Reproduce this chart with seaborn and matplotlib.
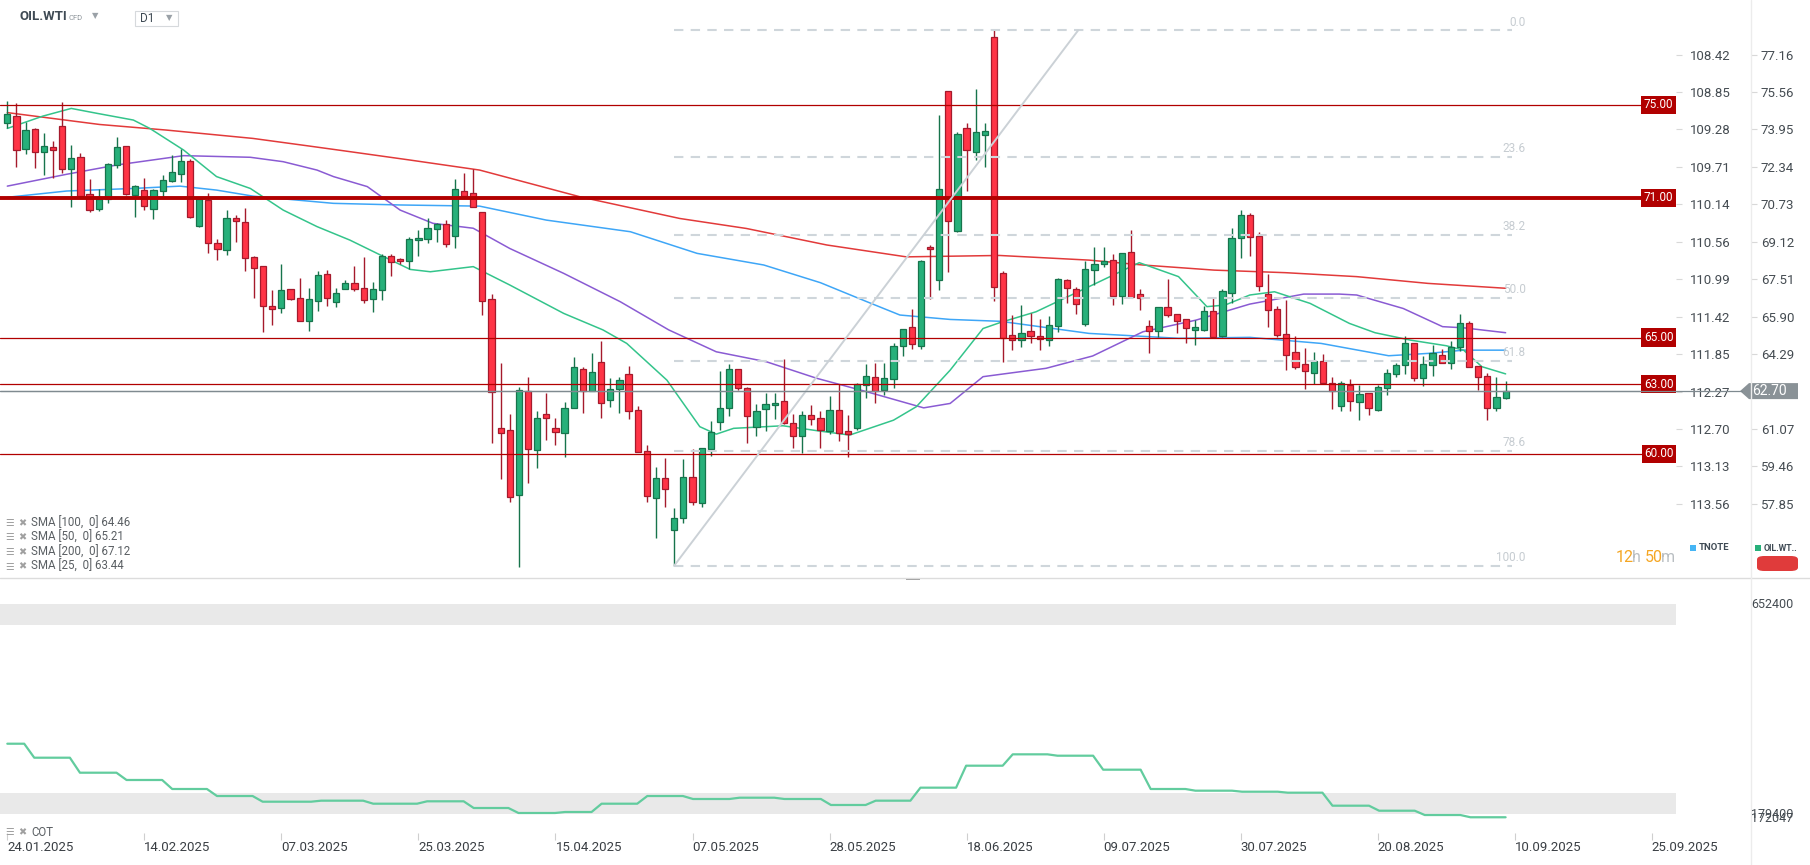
import numpy as np
import seaborn as sns
import matplotlib.pyplot as plt
import matplotlib.transforms as mtransforms
from matplotlib.patches import Rectangle, Polygon, FancyBboxPatch
from matplotlib.lines import Line2D

# ---- OIL.WTI daily candles ----
opens = [74.24, 74.51, 73.09, 73.95, 72.96, 73.18, 74.08, 72.26, 72.75, 71.16,
         70.51, 70.94, 72.40, 73.22, 71.12, 71.33, 70.51, 71.29, 71.72, 72.02,
         72.58, 69.78, 70.90, 69.05, 68.75, 70.13, 69.96, 68.45, 68.07, 66.35,
         66.26, 67.08, 66.69, 65.70, 66.56, 67.72, 66.52, 67.08, 67.34, 67.12,
         66.65, 67.03, 68.49, 68.37, 68.28, 69.18, 69.23, 69.65, 69.87, 69.35,
         71.29, 71.20, 70.38, 66.65, 61.10, 61.01, 58.22, 62.69, 60.15, 61.70,
         61.10, 60.88, 61.96, 63.63, 62.69, 63.93, 62.30, 62.77, 63.42, 61.87,
         60.11, 58.09, 58.95, 56.72, 57.23, 58.99, 57.88, 60.20, 61.36, 61.96,
         63.63, 62.82, 61.14, 61.91, 62.09, 62.26, 61.31, 60.75, 61.66, 61.53,
         60.97, 61.87, 60.97, 61.10, 62.95, 63.29, 62.73, 63.20, 64.66, 65.44,
         64.66, 68.88, 67.46, 75.58, 69.57, 73.99, 72.96, 73.69, 77.94, 67.76,
         65.10, 64.88, 65.27, 65.05, 64.88, 65.48, 67.46, 67.07, 65.60, 67.89,
         68.15, 68.32, 66.80, 68.68, 66.86, 65.50, 65.30, 66.30, 66.00, 65.78,
         65.34, 65.34, 66.13, 65.08, 66.93, 69.26, 70.29, 69.35, 66.86, 66.21,
         65.14, 64.37, 63.87, 63.46, 63.98, 63.03, 62.05, 62.95, 62.22, 62.61,
         61.87, 62.82, 63.42, 63.81, 64.75, 63.25, 63.81, 64.24, 63.89, 64.58,
         65.61, 63.77, 63.34, 61.96, 62.39]
highs = [75.17, 75.08, 74.27, 73.99, 73.79, 73.45, 75.12, 73.28, 72.92, 71.82,
         71.39, 72.50, 73.62, 73.25, 71.55, 71.86, 71.39, 71.97, 72.83, 73.09,
         72.66, 70.94, 71.20, 69.23, 70.49, 70.26, 70.57, 68.49, 68.07, 67.05,
         68.17, 67.08, 67.56, 67.13, 67.85, 67.89, 67.12, 67.48, 68.08, 68.47,
         67.38, 68.61, 68.58, 68.41, 69.31, 69.61, 70.13, 69.91, 70.04, 71.80,
         72.06, 72.25, 70.38, 66.86, 63.89, 61.70, 62.89, 63.30, 61.84, 62.60,
         61.53, 62.23, 64.15, 63.72, 64.32, 64.84, 63.25, 63.29, 63.76, 62.04,
         60.37, 59.42, 59.81, 57.66, 59.77, 60.20, 60.24, 61.40, 63.57, 63.85,
         63.63, 62.86, 62.13, 62.60, 62.60, 64.10, 61.70, 61.83, 62.09, 61.83,
         62.47, 62.99, 61.66, 63.03, 63.85, 63.89, 63.89, 64.75, 65.39, 66.25,
         68.33, 68.98, 74.56, 75.58, 73.82, 74.21, 75.67, 74.21, 78.24, 67.85,
         65.97, 66.39, 66.07, 65.78, 65.93, 67.56, 67.52, 67.16, 68.29, 68.89,
         68.89, 68.59, 68.63, 69.62, 67.09, 65.76, 66.30, 67.52, 66.00, 65.78,
         65.76, 66.36, 66.69, 67.09, 69.69, 70.48, 70.34, 69.52, 67.72, 66.36,
         66.61, 65.08, 64.54, 64.37, 64.30, 63.29, 63.12, 63.21, 62.95, 62.61,
         62.95, 63.64, 63.89, 65.08, 64.75, 64.19, 64.67, 64.50, 64.84, 66.01,
         65.70, 63.77, 63.48, 63.29, 63.12]
lows = [73.99, 72.35, 72.91, 72.30, 72.00, 71.87, 72.06, 70.63, 71.03, 70.41,
        70.46, 70.80, 72.28, 71.12, 70.20, 70.47, 70.11, 70.99, 71.67, 71.67,
        70.14, 69.76, 68.65, 68.35, 68.57, 69.12, 67.88, 66.72, 65.23, 65.56,
        66.07, 66.63, 65.70, 65.27, 66.13, 66.35, 66.30, 67.08, 66.99, 66.48,
        66.09, 66.60, 67.64, 68.15, 67.94, 68.49, 69.05, 69.10, 68.88, 68.84,
        70.99, 70.60, 65.96, 60.49, 58.92, 57.95, 55.13, 58.73, 59.41, 60.58,
        60.37, 59.85, 61.96, 61.74, 62.69, 61.53, 62.00, 61.78, 61.48, 60.07,
        57.92, 56.37, 57.70, 55.20, 57.02, 57.79, 57.70, 59.90, 61.01, 61.61,
        62.73, 60.45, 60.75, 60.97, 61.48, 61.27, 60.24, 60.02, 61.23, 60.24,
        60.84, 60.54, 59.85, 61.01, 62.39, 62.17, 62.52, 62.82, 64.19, 64.53,
        64.53, 66.67, 67.06, 67.83, 69.52, 71.31, 72.62, 72.32, 66.59, 63.97,
        64.47, 64.61, 64.78, 64.48, 64.65, 65.23, 66.50, 66.01, 65.51, 67.26,
        68.02, 66.40, 66.46, 66.76, 66.19, 64.35, 65.04, 65.90, 65.21, 64.78,
        64.70, 65.30, 65.01, 65.04, 66.47, 68.42, 68.51, 67.02, 65.44, 65.04,
        63.62, 63.66, 62.81, 62.99, 63.03, 61.95, 61.83, 61.83, 61.45, 61.66,
        61.83, 62.52, 63.29, 63.42, 63.12, 62.91, 63.34, 63.89, 63.64, 64.41,
        63.72, 62.73, 61.45, 61.83, 62.35]
closes = [74.60, 73.05, 73.91, 72.96, 73.22, 73.05, 72.26, 72.70, 71.07, 70.47,
          70.94, 72.45, 73.18, 71.16, 71.50, 70.64, 71.33, 71.76, 72.10, 72.58,
          70.17, 70.94, 69.05, 68.80, 70.13, 70.00, 68.41, 67.98, 66.35, 66.22,
          67.03, 66.65, 65.70, 66.65, 67.68, 66.69, 66.91, 67.34, 67.08, 66.60,
          67.08, 68.49, 68.24, 68.28, 69.23, 69.27, 69.70, 69.87, 69.01, 71.37,
          71.07, 70.60, 66.56, 62.68, 60.88, 58.13, 62.73, 60.20, 61.53, 61.53,
          60.93, 61.96, 63.72, 62.69, 63.50, 62.21, 62.77, 63.16, 61.83, 60.07,
          58.18, 58.95, 58.48, 57.23, 58.99, 57.92, 60.24, 60.93, 61.96, 63.63,
          62.82, 61.61, 61.83, 62.13, 62.21, 61.31, 60.75, 61.66, 61.48, 61.01,
          61.87, 60.88, 60.84, 62.99, 63.33, 62.69, 63.25, 64.62, 65.35, 64.71,
          68.29, 68.79, 71.39, 70.00, 73.73, 73.05, 73.82, 73.90, 67.16, 64.97,
          64.88, 65.18, 65.05, 64.93, 65.53, 67.50, 67.12, 66.43, 67.93, 68.15,
          68.29, 66.80, 68.63, 66.76, 66.72, 65.30, 66.30, 65.98, 65.73, 65.43,
          65.46, 66.13, 65.01, 66.99, 69.26, 70.29, 69.31, 67.20, 66.17, 65.13,
          64.24, 63.75, 63.58, 63.98, 63.03, 62.69, 63.03, 62.26, 62.56, 61.96,
          62.86, 63.46, 63.81, 64.75, 63.25, 63.85, 64.32, 63.89, 64.58, 65.61,
          63.72, 63.29, 61.96, 62.43, 62.70]

# ---- moving averages, sampled along the drawn lines (candle index, price) ----
sma25_idx = [0, 3.9, 7.0, 9.8, 13.8, 15.6, 19.3, 22.9, 26.6, 30.2, 33.9, 37.5, 41.2, 44.1,
             46.3, 51.0, 55.0, 60.9, 65.2, 67.8, 72.2, 75.8, 77.6, 79.5, 84.9, 88.6, 92.2,
             97.0, 99.5, 103.2, 106.8, 108.7, 112.6, 118.4, 123.9, 128.2, 131.3, 133.3,
             136.0, 138.7, 142.6, 146.9, 149.7, 153.6, 157.5, 159.4, 161.4, 164]
sma25_val = [73.99, 74.52, 74.85, 74.64, 74.35, 73.99, 73.06, 71.92, 71.41, 70.48, 69.77,
             69.19, 68.48, 67.93, 67.83, 68.05, 67.26, 66.04, 65.33, 64.75, 63.17, 61.17,
             60.85, 61.10, 61.21, 61.00, 60.81, 61.45, 62.03, 63.60, 65.39, 65.65, 66.11,
             67.19, 68.22, 67.62, 66.33, 66.40, 66.83, 66.97, 66.47, 65.61, 65.21, 64.89,
             64.65, 64.46, 63.75, 63.44]
sma50_idx = [0, 6.5, 12.0, 19.3, 26.6, 30.2, 33.9, 35.7, 39.4, 43.0, 46.6, 51.0, 55.0, 60.9,
             67.1, 72.4, 77.6, 83.1, 88.6, 94.1, 100.3, 103.2, 106.8, 108.7, 113.7, 118.8,
             124.3, 130.1, 136.0, 141.9, 145.8, 147.7, 152.8, 157.1, 159.4, 164]
sma50_val = [71.51, 72.02, 72.42, 72.82, 72.75, 72.56, 72.20, 71.92, 71.49, 70.48, 69.91,
             69.70, 68.83, 67.76, 66.54, 65.33, 64.39, 63.96, 63.25, 62.67, 61.98, 62.17,
             63.32, 63.42, 63.68, 64.21, 65.25, 65.75, 66.44, 66.87, 66.87, 66.83, 66.25,
             65.47, 65.42, 65.21]
sma100_idx = [0, 6.5, 13.8, 18.9, 22.9, 26.9, 35.7, 43.0, 51.7, 59.0, 68.2, 75.5, 82.8, 89.0,
              94.1, 97.7, 103.2, 108.7, 118.4, 128.2, 136.0, 143.8, 151.2, 155.5, 159.4, 164]
sma100_val = [71.03, 71.30, 71.41, 71.51, 71.34, 71.08, 70.77, 70.70, 70.65, 70.05, 69.55,
              68.62, 68.12, 67.36, 66.54, 65.97, 65.78, 65.70, 65.18, 64.97, 65.01, 64.75,
              64.22, 64.32, 64.46, 64.46]
sma200_idx = [0, 10.1, 17.4, 26.9, 33.1, 36.8, 44.1, 51.7, 62.7, 73.6, 80.9, 89.7,
              98.4, 108.6, 118.4, 124.3, 132.1, 139.9, 147.7, 155.5, 164]
sma200_val = [74.67, 74.16, 73.92, 73.56, 73.23, 73.03, 72.63, 72.20, 71.05, 70.12, 69.69,
              68.98, 68.47, 68.53, 68.33, 68.12, 67.90, 67.79, 67.62, 67.33, 67.12]

# ---- horizontal levels, fibonacci, axes labels ----
levels = [75.0, 71.0, 65.0, 63.0, 60.0]
last_price = 62.70
fib_high, fib_low = 78.20, 55.20
fib_ratios = [0.0, 23.6, 38.2, 50.0, 61.8, 78.6, 100.0]
trend_start = (73, 55.20)
trend_end = (117.2, 78.20)

oil_ticks = [77.16, 75.56, 73.95, 72.34, 70.73, 69.12, 67.51, 65.90, 64.29, 62.68,
             61.07, 59.46, 57.85]
tnote_labels = ["108.42", "108.85", "109.28", "109.71", "110.14", "110.56", "110.99",
                "111.42", "111.85", "112.27", "112.70", "113.13", "113.56"]
date_labels = ["24.01.2025", "14.02.2025", "07.03.2025", "25.03.2025", "15.04.2025",
               "07.05.2025", "28.05.2025", "18.06.2025", "09.07.2025", "30.07.2025",
               "20.08.2025", "10.09.2025", "25.09.2025"]
legend_rows = ["SMA [100,  0] 64.46", "SMA [50,  0] 65.21", "SMA [200,  0] 67.12",
               "SMA [25,  0] 63.44"]

# ---- COT (weekly), step changes at candle positions ----
cot_values = [337700, 306200, 272400, 256000, 235700, 219900, 207100, 209400, 202600,
              208000, 192900, 181650, 183900, 202600, 219900, 213200, 216100, 213200,
              199700, 209400, 238700, 288200, 313800, 310700, 279200, 235700, 231900,
              229600, 227400, 198100, 186800, 177100, 172047]
cot_breaks = [2.4, 7.4, 12.5, 17.5, 22.4, 27.4, 33.8, 39.5, 45.4, 50.5, 55.4, 60.5, 64.5,
              69.5, 74.5, 79.6, 84.5, 89.6, 94.5, 99.4, 104.4, 109.5, 114.4, 119.4, 124.6,
              129.5, 134.6, 139.6, 144.5, 149.6, 154.6, 159.6]
cot_max, cot_min = 652400, 179400

# ---------------------------------------------------------------
W, H = 1810, 865
sns.set_theme(style="white")
plt.rcParams['font.family'] = ['Roboto', 'DejaVu Sans']

GREEN, GREEN_EDGE = '#27b07a', '#17744c'
RED, RED_EDGE = '#ff3446', '#a51a2c'
LEVEL_RED = '#b10000'
TXT = '#3f4a54'


def rect(x0, y0, x1, y1):
    return [x0 / W, 1 - y1 / H, (x1 - x0) / W, (y1 - y0) / H]


def fx(x):
    return x / W


def fy(y):
    return 1 - y / H


fig = plt.figure(figsize=(W / 100, H / 100), dpi=100, facecolor='white')
ax = fig.add_axes(rect(0, 0, 1676, 577))
cot_ax = fig.add_axes(rect(0, 585, 1676, 833))

x_lim = (-0.8, 182.65)
n = len(closes)
idx = np.arange(n)
o, h, l, c = map(np.array, (opens, highs, lows, closes))
up = c >= o

# wicks and bodies
wick_cols = np.where(up, GREEN_EDGE, RED_EDGE)
ax.vlines(idx, l, h, colors=wick_cols, linewidth=1.0, zorder=3)
body_low = np.minimum(o, c)
body_h = np.maximum(np.abs(c - o), 0.06)
ax.bar(idx, body_h, bottom=body_low, width=0.68, color=np.where(up, GREEN, RED),
       edgecolor=wick_cols, linewidth=0.9, zorder=3)

# moving averages
for xs, ys, col in [(sma200_idx, sma200_val, '#e23a3a'),
                    (sma100_idx, sma100_val, '#3ea6f7'),
                    (sma50_idx, sma50_val, '#8a5bd3'),
                    (sma25_idx, sma25_val, '#34c48b')]:
    sns.lineplot(x=xs, y=ys, ax=ax, color=col, linewidth=1.1, estimator=None,
                 sort=False, zorder=2)

# horizontal levels
for lv in levels:
    ax.axhline(lv, color=LEVEL_RED, linewidth=2.8 if lv == 71.0 else 0.9, zorder=4)
ax.axhline(last_price, color='#7f8a90', linewidth=0.9, zorder=4)

# fibonacci retracement
fib_x0, fib_x1 = 73, 164.7
for r in fib_ratios:
    lvl = fib_high - (fib_high - fib_low) * r / 100
    ax.plot([fib_x0, fib_x1], [lvl, lvl], color='#cfd6db', linewidth=1.5,
            dashes=(4.5, 3.5), zorder=5)
    ax.text(166.2, lvl + 0.36, f"{r:.1f}", ha='right', va='center', fontsize=8.5,
            color='#c6ccd1', zorder=5)
ax.plot([trend_start[0], trend_end[0]], [trend_start[1], trend_end[1]],
        color='#cbd1d6', linewidth=1.4, zorder=5)

ax.set_xlim(*x_lim)
ax.set_ylim(54.71, 79.51)
ax.set_xticks([])
for s in ax.spines.values():
    s.set_visible(False)
ax.grid(False)
ax.set_xlabel('')
ax.set_ylabel('')

# level tags at right edge of plot
blend = mtransforms.blended_transform_factory(ax.transAxes, ax.transData)
for lv in levels:
    ax.text(0.9985, lv, f"{lv:.2f}", transform=blend, ha='right', va='center',
            fontsize=8.5, color='white', zorder=6,
            bbox=dict(boxstyle='square,pad=0.22', fc=LEVEL_RED, ec='none'))

# right axes: OIL.WTI (outer column) first, then TNOTE on the main axes
ax_oil = ax.twinx()
ax_oil.set_ylim(ax.get_ylim())
ax_oil.spines['right'].set_position(('axes', 1751 / 1676))
for s in ax_oil.spines.values():
    s.set_visible(False)
ax_oil.set_yticks(oil_ticks)
# the 62.68 label sits under the last-price tag in the reference
ax_oil.set_yticklabels(["" if abs(v - last_price) < 0.1 else f"{v:.2f}" for v in oil_ticks])
ax_oil.tick_params(axis='y', length=4, width=0.8, color='#d8d8d8', pad=3,
                   labelsize=9.5, labelcolor='#454c52')
ax_oil.grid(False)

ax.yaxis.tick_right()
ax.set_yticks(oil_ticks)
ax.set_yticklabels(tnote_labels)
ax.tick_params(axis='y', left=False, right=True, labelleft=False, labelright=True,
               length=4, width=0.8, color='#d8d8d8', pad=6,
               labelsize=9.5, labelcolor='#454c52')

# current price tag
py = H - ax.transData.transform((0, last_price))[1]
fig.add_artist(Line2D([0, fx(1742)], [fy(py), fy(py)], color='#7f8a90', linewidth=0.9))
fig.patches.append(Polygon([[fx(1740), fy(py)], [fx(1749), fy(py - 8)], [fx(1798), fy(py - 8)],
                            [fx(1798), fy(py + 8)], [fx(1749), fy(py + 8)]],
                           closed=True, transform=fig.transFigure, fc='#8a9297', ec='none'))
fig.text(fx(1752), fy(py), f"{last_price:.2f}", color='white', fontsize=10, va='center',
         ha='left')

# ---- COT panel ----
cot_x, cot_y = [0], [cot_values[0]]
for k, b in enumerate(cot_breaks):
    cot_x += [b - 0.55, b + 0.55]
    cot_y += [cot_values[k], cot_values[k + 1]]
cot_x.append(n - 1)
cot_y.append(cot_values[-1])

band = (cot_max - cot_min) * 0.1
cot_ax.axhspan(cot_min, cot_min + band, color='#e9e9e9', zorder=0, lw=0)
cot_ax.axhspan(cot_max - band, cot_max, color='#e9e9e9', zorder=0, lw=0)
sns.lineplot(x=cot_x, y=cot_y, ax=cot_ax, color='#62cc9e', linewidth=1.6,
             estimator=None, sort=False, zorder=2)
cot_ax.set_xlim(*x_lim)
cot_ax.set_ylim(136604, 695196)
cot_ax.set_yticks([])
for s in cot_ax.spines.values():
    s.set_visible(False)
cot_ax.grid(False)
cot_ax.set_xlabel('')
cot_ax.set_ylabel('')
cot_ax.set_xticks(np.arange(0, 15 * len(date_labels), 15))
cot_ax.set_xticklabels(date_labels, ha='left')
cot_ax.tick_params(axis='x', bottom=True, length=5, width=0.8, color='#cfcfcf', pad=1,
                   labelsize=9.5, labelcolor='#3a3f44')

fig.text(fx(1751), fy(605), f"{cot_max}", fontsize=9, color='#454c52', va='center')
fig.text(fx(1751), fy(814), f"{cot_min}", fontsize=9, color='#454c52', va='center')
fig.text(fx(1751), fy(818), f"{cot_values[-1]}", fontsize=9, color='#454c52', va='center')

# ---- separators & decorations ----
fig.add_artist(Line2D([0, 1], [fy(577.5), fy(577.5)], color='#dcdcdc', linewidth=1))
fig.add_artist(Line2D([fx(1751), fx(1751)], [0, 1], color='#ececec', linewidth=1))
fig.patches.append(Rectangle((fx(906), fy(580)), 14 / W, 2 / H, transform=fig.transFigure,
                             fc='#9a9a9a', ec='none'))

# header
fig.text(fx(20), fy(17), "OIL.WTI", fontsize=9.5, fontweight='bold', color=TXT, va='center')
fig.text(fx(68), fy(18), "CFD", fontsize=5.5, color='#8d949a', va='center')
fig.text(fx(92), fy(16), "▼", fontsize=6, color='#9aa1a7', va='center',
         family=['DejaVu Sans'])
fig.patches.append(Rectangle((fx(135), fy(26)), 43 / W, 15 / H, transform=fig.transFigure,
                             fc='white', ec='#d6d9dc', lw=0.8))
fig.text(fx(140), fy(18.5), "D1", fontsize=8.5, color=TXT, va='center')
fig.text(fx(166), fy(18), "▼", fontsize=6, color='#9aa1a7', va='center',
         family=['DejaVu Sans'])

# indicator legend
for k, row in enumerate(legend_rows):
    yy = 523 + 14.5 * k
    fig.text(fx(5), fy(yy), "☰", fontsize=7, color='#a0a0a0', va='center',
             family=['DejaVu Sans'])
    fig.text(fx(18), fy(yy), "✖", fontsize=7, color='#a0a0a0', va='center',
             family=['DejaVu Sans'])
    fig.text(fx(31), fy(yy), row, fontsize=8.3, color='#5a5f63', va='center')
fig.text(fx(5), fy(832), "☰", fontsize=7, color='#a0a0a0', va='center',
         family=['DejaVu Sans'])
fig.text(fx(18), fy(832), "✖", fontsize=7, color='#a0a0a0', va='center',
         family=['DejaVu Sans'])
fig.text(fx(31), fy(833), "COT", fontsize=8.3, color='#5a5f63', va='center')

# countdown
for txt, x0, col in [("12", 1616, '#f5a623'), ("h", 1632, '#b9bec2'),
                     ("50", 1645, '#f5a623'), ("m", 1661, '#b9bec2')]:
    fig.text(fx(x0), fy(557), txt, fontsize=11.5, color=col, va='center')

# series legend on the right
fig.patches.append(Rectangle((fx(1690), fy(551)), 6 / W, 6 / H, transform=fig.transFigure,
                             fc='#45b5f5', ec='none'))
fig.text(fx(1699), fy(548), "TNOTE", fontsize=6.8, fontweight='bold', color=TXT,
         va='center')
fig.patches.append(Rectangle((fx(1755), fy(551)), 6 / W, 6 / H, transform=fig.transFigure,
                             fc='#27b07a', ec='none'))
fig.text(fx(1764), fy(548.5), "OIL.WT..", fontsize=6.3, fontweight='bold', color=TXT,
         va='center')
fig.patches.append(FancyBboxPatch((fx(1757), fy(571)), 41 / W, 15 / H,
                                  boxstyle="round,pad=0,rounding_size=0.004",
                                  transform=fig.transFigure, fc='#e03b3b', ec='none'))

fig.savefig('out.png', dpi=100, facecolor='white')
